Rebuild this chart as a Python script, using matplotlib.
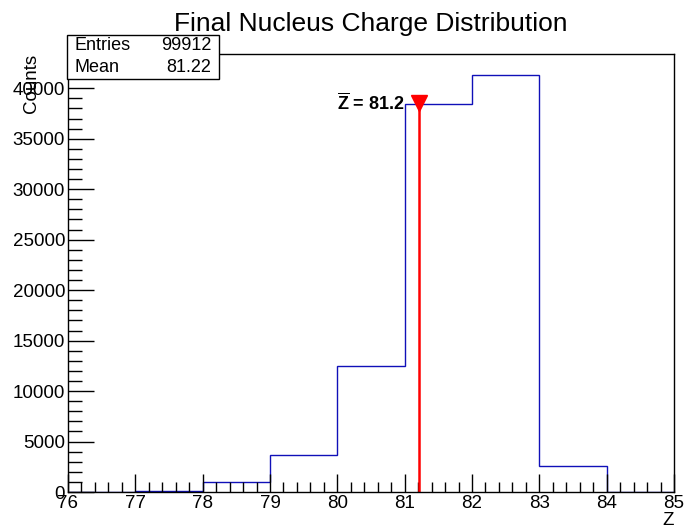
import matplotlib
matplotlib.use("Agg")
import matplotlib.pyplot as plt
from matplotlib.ticker import MultipleLocator
import numpy as np

plt.rcParams['font.family'] = ['Liberation Sans', 'DejaVu Sans']
plt.rcParams['mathtext.fontset'] = 'custom'
plt.rcParams['mathtext.rm'] = 'Liberation Sans'
plt.rcParams['mathtext.bf'] = 'Liberation Sans:bold'

# histogram data
bin_edges = [76, 77, 78, 79, 80, 81, 82, 83, 84, 85]
counts = [0, 140, 990, 3710, 12470, 38460, 41310, 2550, 0]

stat_labels = ["Entries", "Mean"]
stat_values = ["99912", "81.22"]
mean_z = 81.22
marker_y = 38500

fig = plt.figure(figsize=(6.84, 5.31), dpi=100)
ax = fig.add_axes([0.0994, 0.0734, 0.886, 0.8246])

ax.stairs(counts, bin_edges, color='#1010b8', linewidth=1.0)

# mean marker
ax.plot([mean_z, mean_z], [0, marker_y], color='red', linewidth=1.8)
ax.plot([mean_z], [marker_y], marker='v', color='red', markersize=11, clip_on=False)
ax.text(mean_z - 0.22, marker_y, r'$\overline{\mathbf{Z}}$ = %.1f' % mean_z,
        ha='right', va='center', fontsize=13, fontweight='bold')

ax.set_xlim(76, 85)
ax.set_ylim(0, max(counts) * 1.05)

ax.xaxis.set_major_locator(MultipleLocator(1))
ax.xaxis.set_minor_locator(MultipleLocator(0.2))
ax.yaxis.set_major_locator(MultipleLocator(5000))
ax.yaxis.set_minor_locator(MultipleLocator(1000))
ax.tick_params(axis='x', which='major', direction='in', length=13, width=1, labelsize=13.5, pad=2)
ax.tick_params(axis='x', which='minor', direction='in', length=7, width=1)
ax.tick_params(axis='y', which='major', direction='in', length=19, width=1, labelsize=13.5, pad=2)
ax.tick_params(axis='y', which='minor', direction='in', length=10, width=1)
for s in ax.spines.values():
    s.set_linewidth(1)

ax.set_title("Final Nucleus Charge Distribution", fontsize=19, pad=17)
ax.set_xlabel("Z", fontsize=13.5, loc='right', labelpad=0)
ax.set_ylabel("Counts", fontsize=13.5, loc='top', labelpad=-20)

# stats box
bx0, bx1, by0, by1 = 67 / 684, 219 / 684, 1 - 79 / 531, 1 - 35 / 531
fig.patches.append(plt.Rectangle((bx0, by0), bx1 - bx0, by1 - by0, transform=fig.transFigure,
                                 facecolor='white', edgecolor='black', linewidth=1, zorder=5))
for i, (lab, val) in enumerate(zip(stat_labels, stat_values)):
    yy = by1 - (i + 0.5) * (by1 - by0) / 2
    fig.text(bx0 + 8 / 684, yy, lab, ha='left', va='center', fontsize=13, zorder=6)
    fig.text(bx1 - 8 / 684, yy, val, ha='right', va='center', fontsize=13, zorder=6)

fig.savefig("out.png", dpi=100)
